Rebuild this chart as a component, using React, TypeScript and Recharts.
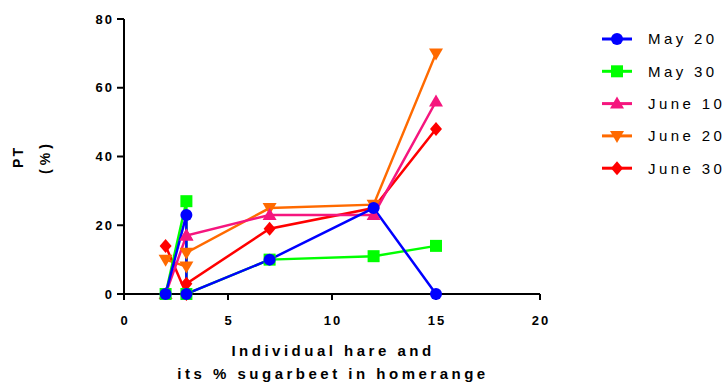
import React from 'react';
import { LineChart, Line, XAxis, YAxis } from 'recharts';

// % sugarbeet in home range for each hare (two hares share 3%)
const sugarbeet = [2, 3, 3, 7, 12, 15];

const may20 = [0, 23, 0, 10, 25, 0];
const may30 = [0, 27, 0, 10, 11, 14];
const june10 = [0, 17, 17, 23, 23, 56];
const june20 = [10, 8, 12, 25, 26, 70];
const june30 = [14, 0, 3, 19, 25, 48];

const xTicks = [0, 5, 10, 15, 20];
const yTicks = [0, 20, 40, 60, 80];

const seriesList = [
  { key: 'may20', name: 'May 20', color: '#0000ff', shape: 'circle', values: may20 },
  { key: 'may30', name: 'May 30', color: '#00ff00', shape: 'square', values: may30 },
  { key: 'june10', name: 'June 10', color: '#f5167e', shape: 'triangle', values: june10 },
  { key: 'june20', name: 'June 20', color: '#ff6a00', shape: 'down', values: june20 },
  { key: 'june30', name: 'June 30', color: '#ff0000', shape: 'diamond', values: june30 },
];

const chartData = sugarbeet.map((x, i) => {
  const row: any = { x };
  seriesList.forEach((s) => {
    row[s.key] = s.values[i];
  });
  return row;
});

const FONT = '"Liberation Sans", Arial, sans-serif';

function Marker({ cx, cy, shape, color }: any) {
  if (cx == null || cy == null) return null;
  if (shape === 'circle') return <circle cx={cx} cy={cy} r={6} fill={color} />;
  if (shape === 'square')
    return <rect x={cx - 6} y={cy - 6} width={12} height={12} fill={color} />;
  if (shape === 'triangle')
    return (
      <polygon
        points={`${cx},${cy - 7} ${cx + 7},${cy + 5} ${cx - 7},${cy + 5}`}
        fill={color}
      />
    );
  if (shape === 'down')
    return (
      <polygon
        points={`${cx - 7},${cy - 5} ${cx + 7},${cy - 5} ${cx},${cy + 7}`}
        fill={color}
      />
    );
  return (
    <polygon
      points={`${cx},${cy - 7} ${cx + 6},${cy} ${cx},${cy + 7} ${cx - 6},${cy}`}
      fill={color}
    />
  );
}

const XTick = ({ x, y, payload }: any) => (
  <text
    x={x + 1}
    y={y}
    dy="0.71em"
    textAnchor="middle"
    fontFamily={FONT}
    fontWeight="bold"
    fontSize={13}
    letterSpacing={2}
    fill="#000"
  >
    {payload.value}
  </text>
);

const YTick = ({ x, y, payload }: any) => (
  <text
    x={x + 2}
    y={y}
    dy="0.36em"
    textAnchor="end"
    fontFamily={FONT}
    fontWeight="bold"
    fontSize={13}
    letterSpacing={2}
    fill="#000"
  >
    {payload.value}
  </text>
);

const YTitle = () => (
  <g fontFamily={FONT} fontWeight="bold" fontSize={14} fill="#000">
    <text x={23} y={157} textAnchor="middle" letterSpacing={2} transform="rotate(-90 23 157)">
      PT
    </text>
    <text x={50} y={157} textAnchor="middle" letterSpacing={4} transform="rotate(-90 50 157)">
      (%)
    </text>
  </g>
);

const XTitle = () => (
  <g fontFamily={FONT} fontWeight="bold" fontSize={15} fill="#000" letterSpacing={3.5}>
    <text x={333} y={356} textAnchor="middle">
      Individual hare and
    </text>
    <text x={333} y={379} textAnchor="middle">
      its % sugarbeet in homerange
    </text>
  </g>
);

const LegendBox = () => (
  <svg width={127} height={170} style={{ position: 'absolute', left: 600, top: 25 }}>
    {seriesList.map((s, i) => {
      const cy = 14 + i * 32.3;
      return (
        <g key={s.key}>
          <line x1={2} x2={32} y1={cy} y2={cy} stroke={s.color} strokeWidth={3} />
          <Marker cx={17} cy={cy} shape={s.shape} color={s.color} />
          <text
            x={48}
            y={cy}
            dy="0.36em"
            fontFamily={FONT}
            fontSize={15}
            letterSpacing={3.4}
            fill="#000"
          >
            {s.name}
          </text>
        </g>
      );
    })}
  </svg>
);

export default function App() {
  const drawOrder = [...seriesList].reverse();
  return (
    <div style={{ position: 'absolute', left: 0, top: 0, width: 727, height: 382, background: '#fff' }}>
      <LineChart
        width={727}
        height={382}
        data={chartData}
        margin={{ top: 19, right: 187, bottom: 0, left: 0 }}
      >
        <XAxis
          dataKey="x"
          type="number"
          domain={[0, 20]}
          ticks={xTicks}
          height={88}
          tickSize={6}
          tickMargin={16}
          axisLine={{ stroke: '#000', strokeWidth: 2 }}
          tickLine={{ stroke: '#000', strokeWidth: 2 }}
          tick={<XTick />}
          label={<XTitle />}
        />
        <YAxis
          type="number"
          domain={[0, 80]}
          ticks={yTicks}
          width={124}
          tickSize={7}
          tickMargin={5}
          axisLine={{ stroke: '#000', strokeWidth: 2 }}
          tickLine={{ stroke: '#000', strokeWidth: 2 }}
          tick={<YTick />}
          label={<YTitle />}
        />
        {drawOrder.map((s) => (
          <Line
            key={s.key}
            dataKey={s.key}
            name={s.name}
            stroke={s.color}
            strokeWidth={2.5}
            isAnimationActive={false}
            dot={(p: any) => (
              <Marker key={`${s.key}-${p.index}`} cx={p.cx} cy={p.cy} shape={s.shape} color={s.color} />
            )}
            activeDot={false}
          />
        ))}
      </LineChart>
      <LegendBox />
    </div>
  );
}
